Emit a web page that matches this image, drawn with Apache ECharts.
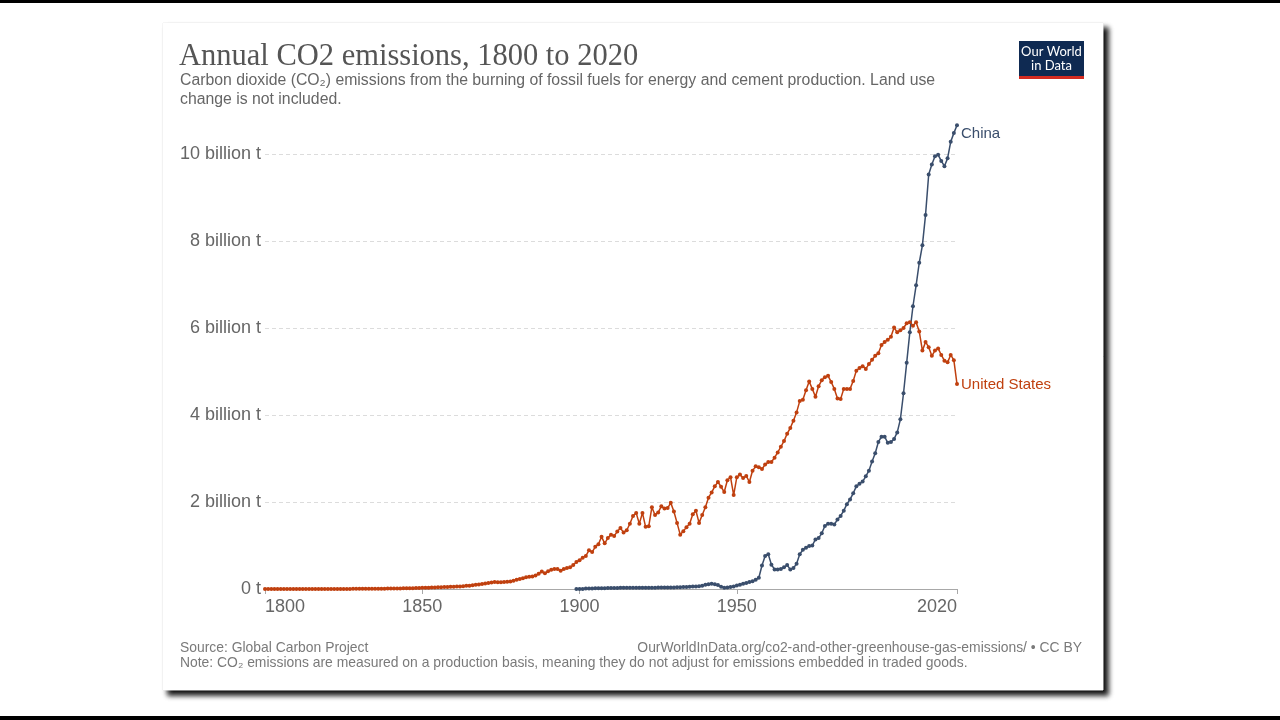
<!DOCTYPE html>
<html>
<head>
<meta charset="utf-8">
<script src="https://cdn.jsdelivr.net/npm/echarts@6.0.0/dist/echarts.min.js"></script>
<style>
html,body{margin:0;padding:0;background:#fff;}
#chart{width:1280px;height:720px;}
</style>
</head>
<body>
<div id="chart"></div>
<script>
// ---- Data (billion tonnes CO2 per year) ----
const usStartYear = 1800;
const usValues = [
0.0003,0.0003,0.0003,0.0003,0.0003,0.0004,0.0004,0.0004,0.0004,0.0005,
0.0005,0.0005,0.0006,0.0006,0.0007,0.0007,0.0008,0.0009,0.001,0.001,
0.0012,0.0013,0.0014,0.0016,0.0018,0.002,0.0023,0.0026,0.003,0.0033,
0.0037,0.0042,0.0046,0.0052,0.0058,0.0064,0.007,0.0077,0.0084,0.009,
0.0098,0.011,0.012,0.013,0.015,0.016,0.018,0.02,0.022,0.024,
0.026,0.029,0.031,0.034,0.037,0.04,0.042,0.044,0.046,0.049,
0.053,0.055,0.058,0.065,0.072,0.075,0.085,0.095,0.105,0.115,
0.125,0.14,0.15,0.16,0.155,0.155,0.16,0.165,0.17,0.19,
0.21,0.23,0.25,0.27,0.28,0.29,0.31,0.35,0.4,0.36,
0.41,0.44,0.46,0.46,0.42,0.46,0.48,0.5,0.55,0.62,
0.66,0.72,0.76,0.89,0.85,0.97,1.03,1.2,1.05,1.17,
1.25,1.22,1.32,1.4,1.3,1.35,1.5,1.68,1.75,1.5,
1.75,1.43,1.44,1.88,1.7,1.76,1.9,1.85,1.86,1.98,
1.78,1.52,1.25,1.33,1.42,1.5,1.72,1.8,1.52,1.7,
1.88,2.1,2.22,2.36,2.46,2.35,2.23,2.5,2.57,2.16,
2.57,2.63,2.55,2.6,2.46,2.72,2.82,2.8,2.76,2.86,
2.92,2.92,3.02,3.14,3.27,3.4,3.57,3.7,3.87,4.06,
4.32,4.35,4.57,4.77,4.6,4.42,4.66,4.8,4.87,4.9,
4.76,4.6,4.38,4.37,4.6,4.6,4.6,4.78,5.02,5.08,
5.12,5.06,5.17,5.27,5.36,5.42,5.61,5.68,5.73,5.8,
6.01,5.9,5.95,6.0,6.11,6.13,6.05,6.13,5.92,5.48,
5.68,5.56,5.36,5.48,5.53,5.38,5.25,5.21,5.38,5.26,
4.71
];
const chinaStartYear = 1899;
const chinaValues = [
0.0001,
0.0001,0.0001,0.01,0.012,0.013,0.015,0.017,0.018,0.02,0.021,
0.022,0.023,0.025,0.03,0.029,0.028,0.027,0.026,0.026,0.027,
0.028,0.028,0.029,0.03,0.031,0.032,0.033,0.034,0.035,0.036,
0.037,0.04,0.042,0.045,0.048,0.052,0.058,0.06,0.062,0.075,
0.095,0.11,0.12,0.11,0.09,0.05,0.03,0.035,0.045,0.055,
0.079,0.095,0.12,0.14,0.16,0.18,0.21,0.26,0.54,0.76,
0.8,0.56,0.45,0.45,0.46,0.5,0.55,0.45,0.48,0.58,
0.8,0.9,0.95,0.99,1.0,1.14,1.17,1.28,1.45,1.5,
1.5,1.48,1.6,1.68,1.8,1.95,2.06,2.2,2.36,2.42,
2.47,2.59,2.72,2.93,3.12,3.38,3.5,3.5,3.36,3.38,
3.45,3.6,3.9,4.5,5.2,5.9,6.5,6.98,7.5,7.9,
8.6,9.53,9.76,9.95,9.98,9.84,9.72,9.9,10.28,10.48,
10.66
];
const xTickYears = [1800, 1850, 1900, 1950, 2020];
const yTicks = [0, 2, 4, 6, 8, 10];

const usColor = '#c0400f';
const chinaColor = '#3a4e6c';
const sans = '"Liberation Sans", Arial, sans-serif';

const usData = usValues.map((v, i) => [usStartYear + i, v]);
const chinaData = chinaValues.map((v, i) => [chinaStartYear + i, v]);

const chart = echarts.init(document.getElementById('chart'), null, {renderer: 'canvas'});
chart.setOption({
  animation: false,
  backgroundColor: '#ffffff',
  title: [
    {text: 'Annual CO2 emissions, 1800 to 2020', left: 179, top: 41, padding: 0,
     textStyle: {fontFamily: '"Liberation Serif", "DejaVu Serif", serif', fontSize: 30.5, fontWeight: 'normal', color: '#555555'}},
    {text: 'Carbon dioxide (CO₂) emissions from the burning of fossil fuels for energy and cement production. Land use\nchange is not included.',
     left: 180, top: 71, padding: 0,
     textStyle: {fontFamily: sans, fontSize: 15.8, fontWeight: 'normal', color: '#666666', lineHeight: 19}},
    {text: 'Source: Global Carbon Project', left: 180, top: 641, padding: 0,
     textStyle: {fontFamily: sans, fontSize: 13.9, fontWeight: 'normal', color: '#7a7a7a'}},
    {text: 'OurWorldInData.org/co2-and-other-greenhouse-gas-emissions/ • CC BY', right: 1280 - 1082, top: 641, padding: 0,
     textStyle: {fontFamily: sans, fontSize: 13.9, fontWeight: 'normal', color: '#7a7a7a'}},
    {text: 'Note: CO₂ emissions are measured on a production basis, meaning they do not adjust for emissions embedded in traded goods.',
     left: 180, top: 656, padding: 0,
     textStyle: {fontFamily: sans, fontSize: 13.9, fontWeight: 'normal', color: '#7a7a7a'}}
  ],
  graphic: [
    {type: 'rect', z: -100, shape: {x: 0, y: 0, width: 1280, height: 3}, style: {fill: '#000'}},
    {type: 'rect', z: -100, shape: {x: 0, y: 716, width: 1280, height: 4}, style: {fill: '#000'}},
    {type: 'rect', z: -90, shape: {x: 163, y: 23, width: 940, height: 667},
     style: {fill: '#fff', stroke: '#ececec', lineWidth: 1, shadowBlur: 5, shadowColor: 'rgba(0,0,0,0.95)', shadowOffsetX: 5, shadowOffsetY: 5}},
    {type: 'rect', z: -80, shape: {x: 163, y: 23, width: 940, height: 667}, style: {fill: '#fff'}},
    {type: 'group', z: 10, children: [
      {type: 'rect', shape: {x: 1019, y: 41, width: 65, height: 38}, style: {fill: '#0f2a52'}},
      {type: 'rect', shape: {x: 1019, y: 76, width: 65, height: 3}, style: {fill: '#d42b21'}},
      {type: 'text', style: {text: 'Our World', x: 1051.5, y: 52, align: 'center', verticalAlign: 'middle', fill: '#fff', font: '13px Lato, "Liberation Sans", sans-serif'}},
      {type: 'text', style: {text: 'in Data', x: 1051.5, y: 66, align: 'center', verticalAlign: 'middle', fill: '#fff', font: '13px Lato, "Liberation Sans", sans-serif'}}
    ]}
  ],
  grid: {left: 265, right: 1280 - 957, top: 154, bottom: 720 - 589, containLabel: false},
  xAxis: {
    type: 'value', min: 1800, max: 2020,
    axisLine: {show: true, lineStyle: {color: '#a8a8a8', width: 1}},
    axisTick: {show: true, customValues: xTickYears, length: 5, lineStyle: {color: '#a8a8a8'}},
    axisLabel: {customValues: xTickYears, fontFamily: sans, fontSize: 18, color: '#666666', margin: 9,
      alignMinLabel: 'left', alignMaxLabel: 'right', formatter: v => String(v)},
    splitLine: {show: false}
  },
  yAxis: {
    type: 'value', min: 0, max: 10, interval: 2,
    axisLine: {show: false}, axisTick: {show: false},
    axisLabel: {fontFamily: sans, fontSize: 18, color: '#666666', margin: 4,
      customValues: yTicks,
      formatter: v => v === 0 ? '0 t' : v + ' billion t'},
    splitLine: {show: true, lineStyle: {color: '#dcdcdc', type: [4, 3], width: 1}}
  },
  series: [
    {type: 'line', name: 'United States', data: usData, clip: false,
     symbol: 'circle', symbolSize: 4, showSymbol: true,
     lineStyle: {color: usColor, width: 1.5}, itemStyle: {color: usColor},
     endLabel: {show: true, formatter: '{a}', color: usColor, fontFamily: sans, fontSize: 15, distance: 4, offset: [0, 1]}},
    {type: 'line', name: 'China', data: chinaData, clip: false,
     symbol: 'circle', symbolSize: 4, showSymbol: true,
     lineStyle: {color: chinaColor, width: 1.5}, itemStyle: {color: chinaColor},
     endLabel: {show: true, formatter: '{a}', color: chinaColor, fontFamily: sans, fontSize: 15, distance: 4, offset: [0, 9]}}
  ]
});
</script>
</body>
</html>
